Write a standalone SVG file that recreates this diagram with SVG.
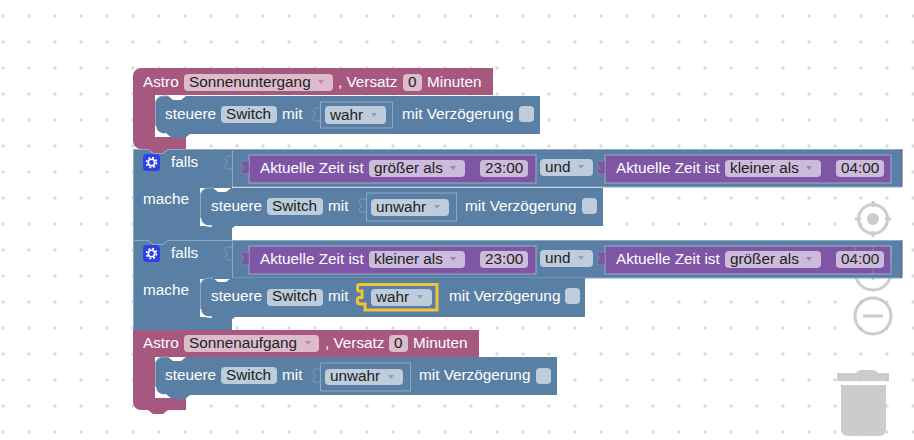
<svg xmlns="http://www.w3.org/2000/svg" width="914" height="440" viewBox="0 0 914 440">
<style>
text{font-family:"Liberation Sans",Arial,sans-serif;font-size:15.3px;fill:#fff}
text.d{fill:#222}
.pk{fill:#A7587F}.bl{fill:#5A7FA5}.pu{fill:#7F55A6}
.f{fill:#fff;fill-opacity:.6}
.fb{fill:#BECCDC;fill-opacity:1}
.hl{fill:none;stroke:#8FA9C4;stroke-width:1}
.hd{fill:none;stroke:#46668A;stroke-width:1}
.wh{fill:none;stroke:#fff;stroke-width:1.5}
.tab{fill:none;stroke:#7D9BBB;stroke-width:1}
.ic{fill:none;stroke:#ccc;stroke-width:3}
.as{fill:#5A7FA5;fill-opacity:.55}
.ap{fill:#A7587F;fill-opacity:.55}
.au{fill:#7F55A6;fill-opacity:.55}
</style>
<defs>
<pattern id="grid" x="0" y="13" width="26" height="26" patternUnits="userSpaceOnUse">
<path d="M1 3H5M3 1V5" stroke="#c4c4c4" stroke-width="1" stroke-opacity=".75"/>
</pattern>
<polygon id="ar" points="0,0 6,0 3,4"/>
<path id="sock" d="M0 0h-4q-3 0-3 2.500q0 2 2 2.500v3q-2 .5-2 2.500q0 2.500 3 2.500h4" fill="none" stroke="#7D9BBB"/>
<path id="ptab" d="M0 0h-5q-3 0-3 2.500q0 2 2 2.500v3q-2 .5-2 2.500q0 2.500 3 2.500h5Z" fill="#7F55A6" stroke="#7D9BBB" stroke-width=".6"/>
<g id="gear">
<rect x="0" y="0" width="17" height="17" rx="3.5" fill="#2E40E6"/>
<circle cx="8.5" cy="8.5" r="4.9" fill="none" stroke="#fff" stroke-width="1.7" stroke-dasharray="2 1.85"/>
<circle cx="8.5" cy="8.5" r="3.2" fill="none" stroke="#fff" stroke-width="1.6"/>
</g>
</defs>
<rect width="914" height="440" fill="#fff"/>

<g id="controls">
<g id="ctl-center"><circle class="ic" cx="873" cy="219" r="14.500"/><circle cx="873" cy="219" r="6" fill="#ccc"/><path class="ic" d="M873 201v6M873 231v6M855 219h6M885 219h6"/></g>
<g id="ctl-plus"><circle class="ic" cx="873" cy="272" r="18"/><path class="ic" d="M865 272h16M873 264v16"/></g>
<g id="ctl-minus"><circle class="ic" cx="873" cy="316" r="18"/><path class="ic" d="M863 316h20"/></g>
<g id="ctl-trash" fill="#ccc"><path d="M837 373H856q2-3 6-3h10q4 0 6 3H889V381H837Z"/><path d="M841 385H886V429q0 7-7 7H848q-7 0-7-7Z"/></g>
</g>
<rect width="914" height="440" fill="url(#grid)"/>

<g id="astro-1">
<path class="pk" d="M141 68H493V95H155V137H186V149H168l-5 4h-10l-5-4H141a8 8 0 0 1-8-8V76a8 8 0 0 1 8-8Z"/>
<text x="143" y="87">Astro</text>
<rect class="f" x="184" y="74" width="149" height="17" rx="4"/>
<text class="d" x="189" y="87">Sonnenuntergang</text>
<use href="#ar" class="ap" x="318" y="80"/>
<text x="338" y="87">, Versatz</text>
<rect class="f" x="403" y="74" width="19" height="17" rx="4"/>
<text class="d" x="408" y="87">0</text>
<text x="427" y="87">Minuten</text>
</g>

<g id="steuere-1">
<path class="bl" d="M163 96H168l5 4h8l5-4H540V134H190l-5 4H172l-5-4H163a8 8 0 0 1-8-8V104a8 8 0 0 1 8-8Z"/>
<path class="wh" d="M155.500 126a8 8 0 0 0 7.500 8H167"/>
<path class="hl" d="M155.500 126V104a8 8 0 0 1 8-8H168"/>
<text x="165" y="119">steuere</text>
<rect class="f" x="221" y="106" width="56" height="17" rx="4"/>
<text class="d" x="226" y="119">Switch</text>
<text x="282" y="119">mit</text>
<use href="#sock" x="320" y="108"/>
<rect x="320.500" y="102" width="72" height="26" fill="#5A7FA5" stroke="#8FA9C4"/>
<rect class="fb" x="325" y="106" width="61" height="18" rx="4"/>
<text class="d" x="330" y="120">wahr</text>
<use href="#ar" class="as" x="371" y="113"/>
<text x="402" y="119">mit Verzögerung</text>
<rect class="fb" x="519" y="106" width="15" height="16" rx="4"/>
</g>

<g id="falls-1">
<path class="bl" d="M133 149H148l5 4h10l5-4H902V187H232V188H200V226H232V240H168l-5 4h-10l-5-4H133Z"/>
<path class="hl" d="M133.500 240V149.500H148l5 4h10l5-4H902"/>
<path class="hl" d="M232.500 150V187H902"/>
<path class="hd" d="M902 149V187"/>
<use href="#gear" x="143" y="154"/>
<text x="171" y="167">falls</text>
<text x="143" y="204">mache</text>
<use href="#sock" x="232" y="156"/>
</g>
<g id="zeit-1a">
<rect class="pu" x="249" y="155" width="287" height="28" stroke="#9BB0C8"/>
<use href="#ptab" x="249" y="161"/>
<text x="260" y="173">Aktuelle Zeit ist</text>
<rect class="f" x="369" y="160" width="96" height="17" rx="4"/>
<text class="d" x="374" y="173">größer als</text>
<use href="#ar" class="au" x="450" y="166"/>
<rect class="f" x="480" y="160" width="48" height="17" rx="4"/>
<text class="d" x="485" y="173">23:00</text>
</g>
<g id="und-1">
<rect class="fb" x="540" y="159" width="53" height="17" rx="4"/>
<text class="d" x="545" y="172">und</text>
<use href="#ar" class="as" x="578" y="165"/>
</g>
<g id="zeit-1b">
<rect class="pu" x="605" y="155" width="286" height="28" stroke="#9BB0C8"/>
<use href="#ptab" x="605" y="161"/>
<text x="616" y="173">Aktuelle Zeit ist</text>
<rect class="f" x="725" y="160" width="96" height="17" rx="4"/>
<text class="d" x="730" y="173">kleiner als</text>
<use href="#ar" class="au" x="806" y="166"/>
<rect class="f" x="836" y="160" width="48" height="17" rx="4"/>
<text class="d" x="841" y="173">04:00</text>
</g>
<g id="steuere-2">
<path class="bl" d="M208 188H213l5 4h8l5-4H603V226H235l-5 4H217l-5-4H208a8 8 0 0 1-8-8V196a8 8 0 0 1 8-8Z"/>
<path class="wh" d="M200.500 218a8 8 0 0 0 7.500 8H212"/>
<path class="hl" d="M200.500 218V196a8 8 0 0 1 8-8H213"/>
<text x="211" y="211">steuere</text>
<rect class="f" x="267" y="198" width="56" height="17" rx="4"/>
<text class="d" x="272" y="211">Switch</text>
<text x="328" y="211">mit</text>
<use href="#sock" x="366" y="199"/>
<rect x="366.500" y="193" width="90" height="28" fill="#5A7FA5" stroke="#8FA9C4"/>
<rect class="fb" x="371" y="199" width="78" height="17" rx="4"/>
<text class="d" x="376" y="212">unwahr</text>
<use href="#ar" class="as" x="434" y="205"/>
<text x="465" y="211">mit Verzögerung</text>
<rect class="fb" x="582" y="198" width="15" height="16" rx="4"/>
</g>

<g id="falls-2">
<path class="bl" d="M133 240H148l5 4h10l5-4H902V278H232V279H200V317H232V331H168l-5 4h-10l-5-4H133Z"/>
<path class="hl" d="M133.500 331V240.500H148l5 4h10l5-4H902"/>
<path class="hl" d="M232.500 241V278H902"/>
<path class="hd" d="M902 240V278"/>
<use href="#gear" x="143" y="245"/>
<text x="171" y="258">falls</text>
<text x="143" y="295">mache</text>
<use href="#sock" x="232" y="247"/>
</g>
<g id="zeit-2a">
<rect class="pu" x="249" y="246" width="287" height="28" stroke="#9BB0C8"/>
<use href="#ptab" x="249" y="252"/>
<text x="260" y="264">Aktuelle Zeit ist</text>
<rect class="f" x="369" y="251" width="96" height="17" rx="4"/>
<text class="d" x="374" y="264">kleiner als</text>
<use href="#ar" class="au" x="450" y="257"/>
<rect class="f" x="480" y="251" width="48" height="17" rx="4"/>
<text class="d" x="485" y="264">23:00</text>
</g>
<g id="und-2">
<rect class="fb" x="540" y="250" width="53" height="17" rx="4"/>
<text class="d" x="545" y="263">und</text>
<use href="#ar" class="as" x="578" y="256"/>
</g>
<g id="zeit-2b">
<rect class="pu" x="605" y="246" width="286" height="28" stroke="#9BB0C8"/>
<use href="#ptab" x="605" y="252"/>
<text x="616" y="264">Aktuelle Zeit ist</text>
<rect class="f" x="725" y="251" width="96" height="17" rx="4"/>
<text class="d" x="730" y="264">größer als</text>
<use href="#ar" class="au" x="806" y="257"/>
<rect class="f" x="836" y="251" width="48" height="17" rx="4"/>
<text class="d" x="841" y="264">04:00</text>
<path d="M873 246V274M855 246V262M891 246V262" stroke="#ccc" stroke-opacity=".3" fill="none"/>
</g>
<g id="steuere-3">
<path class="bl" d="M208 278H213l5 4h8l5-4H585V317H235l-5 4H217l-5-4H208a8 8 0 0 1-8-8V286a8 8 0 0 1 8-8Z"/>
<path class="wh" d="M200.500 309a8 8 0 0 0 7.500 8H212"/>
<path class="hl" d="M200.500 309V286a8 8 0 0 1 8-8H213"/>
<text x="211" y="301">steuere</text>
<rect class="f" x="267" y="289" width="56" height="17" rx="4"/>
<text class="d" x="272" y="301">Switch</text>
<text x="328" y="301">mit</text>
<rect class="fb" x="371" y="289" width="61" height="17" rx="4"/>
<text class="d" x="376" y="302">wahr</text>
<use href="#ar" class="as" x="417" y="295"/>
<path d="M365 284.500H437V310H365V304H360q-2.500 0-2.500-2.500V299q0-1.500 2-1.500h2.500V291H359.500q-2 0-2-1.500V287q0-2.500 2.500-2.500Z" fill="none" stroke="#F2C335" stroke-width="3"/>
<text x="449" y="301">mit Verzögerung</text>
<rect class="fb" x="565" y="288" width="15" height="16" rx="4"/>
</g>

<g id="astro-2">
<path class="pk" d="M133 330H479V357H155V398H186V410H168l-5 4h-10l-5-4H141a8 8 0 0 1-8-8Z"/>
<text x="143" y="348">Astro</text>
<rect class="f" x="184" y="335" width="135" height="17" rx="4"/>
<text class="d" x="189" y="348">Sonnenaufgang</text>
<use href="#ar" class="ap" x="305" y="341"/>
<text x="325" y="348">, Versatz</text>
<rect class="f" x="389" y="335" width="19" height="17" rx="4"/>
<text class="d" x="394" y="348">0</text>
<text x="413" y="348">Minuten</text>
</g>
<g id="steuere-4">
<path class="bl" d="M163 357H168l5 4h8l5-4H557V395H190l-5 4H172l-5-4H163a8 8 0 0 1-8-8V365a8 8 0 0 1 8-8Z"/>
<path class="wh" d="M155.500 387a8 8 0 0 0 7.500 8H167"/>
<path class="hl" d="M155.500 387V365a8 8 0 0 1 8-8H168"/>
<text x="165" y="380">steuere</text>
<rect class="f" x="221" y="367" width="56" height="17" rx="4"/>
<text class="d" x="226" y="380">Switch</text>
<text x="282" y="380">mit</text>
<use href="#sock" x="320" y="369"/>
<rect x="320.500" y="363" width="90" height="28" fill="#5A7FA5" stroke="#8FA9C4"/>
<rect class="fb" x="325" y="369" width="78" height="16" rx="4"/>
<text class="d" x="330" y="381">unwahr</text>
<use href="#ar" class="as" x="388" y="375"/>
<text x="419" y="380">mit Verzögerung</text>
<rect class="fb" x="536" y="368" width="15" height="16" rx="4"/>
</g>
</svg>
